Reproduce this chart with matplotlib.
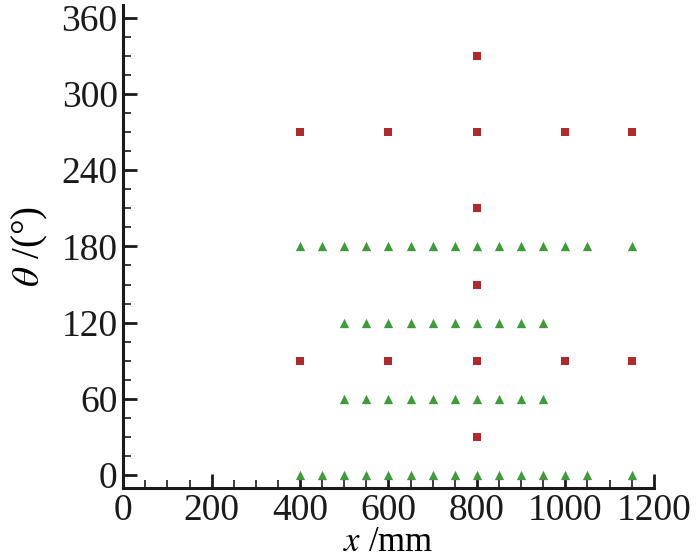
import matplotlib
matplotlib.use('Agg')
import matplotlib.pyplot as plt
from matplotlib.ticker import MultipleLocator

# green triangles (x in mm, theta in degrees)
tri_x0 = [400, 450, 500, 550, 600, 650, 700, 750, 800, 850, 900, 950, 1000, 1050, 1150]
tri_x1 = [500, 550, 600, 650, 700, 750, 800, 850, 900, 950]
tri_theta_full = [0, 180]
tri_theta_part = [60, 120]

# red squares
sq_x_row = [400, 600, 800, 1000, 1150]
sq_theta_row = [90, 270]
sq_x_col = 800
sq_theta_col = [30, 150, 210, 330]

plt.rcParams['font.family'] = ['Liberation Serif', 'DejaVu Serif']
plt.rcParams['mathtext.fontset'] = 'stix'

fig = plt.figure(figsize=(7, 5.6), dpi=100)
ax = fig.add_axes([0.176, 0.129, 0.758, 0.862])

green = '#3f9a3a'
red = '#b02a2a'

gx, gy = [], []
for t in tri_theta_full:
    gx += tri_x0
    gy += [t] * len(tri_x0)
for t in tri_theta_part:
    gx += tri_x1
    gy += [t] * len(tri_x1)
ax.scatter(gx, gy, marker='^', s=45, color=green, linewidths=0, zorder=3, clip_on=False)

rx, ry = [], []
for t in sq_theta_row:
    rx += sq_x_row
    ry += [t] * len(sq_x_row)
rx += [sq_x_col] * len(sq_theta_col)
ry += sq_theta_col
ax.scatter(rx, ry, marker='s', s=26, color=red, linewidths=0, zorder=3)

ax.set_xlim(0, 1200)
ax.set_ylim(-10, 370)
ax.xaxis.set_major_locator(MultipleLocator(200))
ax.xaxis.set_minor_locator(MultipleLocator(50))
ax.yaxis.set_major_locator(MultipleLocator(60))
ax.yaxis.set_minor_locator(MultipleLocator(15))
ax.set_yticks([0, 60, 120, 180, 240, 300, 360])

for s in ['top', 'right']:
    ax.spines[s].set_visible(False)
for s in ['left', 'bottom']:
    ax.spines[s].set_linewidth(2.2)
    ax.spines[s].set_color('#1a1a1a')

ax.tick_params(which='major', direction='in', length=10, width=2, labelsize=27, pad=4, colors='#1a1a1a')
ax.tick_params(which='minor', direction='in', length=6, width=1.2, colors='#1a1a1a')
ax.tick_params(axis='x', pad=4)

ax.set_xlabel('$x$ /mm', fontsize=25, va='top')
ax.xaxis.set_label_coords(0.5, -0.08)
ax.set_ylabel(r'$\theta$ /(°)', fontsize=28, labelpad=8)

fig.savefig('out.png', dpi=100)
